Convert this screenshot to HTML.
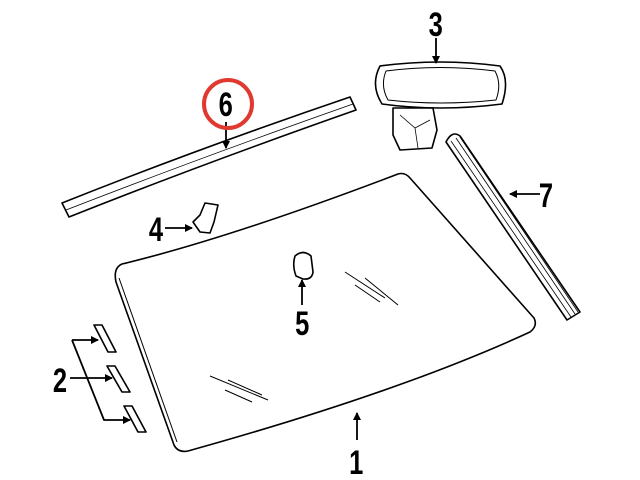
<!DOCTYPE html>
<html><head><meta charset="utf-8"><style>
html,body{margin:0;padding:0;background:#fff;width:640px;height:480px;overflow:hidden}
text{font-family:"Liberation Sans",sans-serif;font-weight:bold;font-size:34px;fill:#000}
</style></head><body>
<svg width="640" height="480" viewBox="0 0 640 480" xmlns="http://www.w3.org/2000/svg">
<defs><marker id="a" markerWidth="8" markerHeight="8" refX="7" refY="4" orient="auto" markerUnits="userSpaceOnUse"><path d="M0,0 L8,4 L0,8z" fill="#000"/></marker></defs>
<g fill="none" stroke="#000" stroke-width="1.6" stroke-linejoin="round">
<path d="M122,264 Q230,238 398,174 Q405,172 410,178 L534,318 Q538,326 530,332 Q400,392 188,451 Q178,453 174,445 L116,282 Q113,268 122,264Z"/>
<path d="M119,278 L177,442" stroke-width="1"/>
<g stroke-width="1">
<path d="M345,272 L385,298 M365,278 L398,305 M355,285 L380,302"/>
<path d="M210,376 L268,400 M228,380 L262,395 M225,390 L252,402"/>
</g>
<path d="M62,203 Q200,148 350,97 L356,110 Q205,163 69,217 Z"/>
<path d="M66,210 Q205,156 353,104" stroke-width="0.8"/>
<path d="M380,66 Q440,58 500,66 Q510,80 502,104 Q440,112 382,104 Q370,85 380,66Z"/>
<path d="M386,71 Q440,64 495,71 Q502,84 496,100 Q440,106 388,100 Q380,86 386,71Z" stroke-width="1"/>
<path d="M393,108 L433,108 L437,130 L432,148 L400,150 L393,135 Z"/>
<path d="M400,115 L415,128 L430,120 M415,128 L418,148" stroke-width="0.8"/>
<path d="M446,142 L567,320 L580,312 L460,136 Q452,130 446,142Z"/>
<path d="M451,141 L571,317 M456,138 L575,314 M460,137 L578,312" stroke-width="0.8"/>
<path d="M205,203 L218,205 L214,222 L210,233 L200,232 L193,222 L200,215 Z"/>
<path d="M295,256 Q303,249 311,256 L313,272 Q312,280 303,279 L296,276 Q292,265 295,256Z"/>
<path d="M94,325 L102,325 L116,352 L108,352Z M107,366 L115,366 L130,392 L122,392Z M124,406 L132,406 L146,432 L138,432Z"/>
<g stroke-width="1.8">
<path d="M436,38 L436,63" marker-end="url(#a)"/>
<path d="M226,122 L226,148" marker-end="url(#a)"/>
<path d="M540,194 L510,194" marker-end="url(#a)"/>
<path d="M165,228 L192,228" marker-end="url(#a)"/>
<path d="M302,305 L302,280" marker-end="url(#a)"/>
<path d="M357,440 L357,413" marker-end="url(#a)"/>
<path d="M70,378 L112,378" marker-end="url(#a)"/>
<path d="M72,340 L98,340" marker-end="url(#a)"/>
<path d="M72,340 L104,420 L130,420" marker-end="url(#a)"/>
</g>
</g>
<circle cx="228" cy="104" r="24" fill="none" stroke="#e03a30" stroke-width="4"/>
<g transform="scale(0.75,1)">
<text x="581" y="36" text-anchor="middle">3</text>
<text x="301" y="116" text-anchor="middle">6</text>
<text x="728" y="207" text-anchor="middle">7</text>
<text x="208" y="241" text-anchor="middle">4</text>
<text x="403" y="335" text-anchor="middle">5</text>
<text x="80" y="392" text-anchor="middle">2</text>
<text x="475" y="474" text-anchor="middle">1</text>
</g>
</svg>
</body></html>
